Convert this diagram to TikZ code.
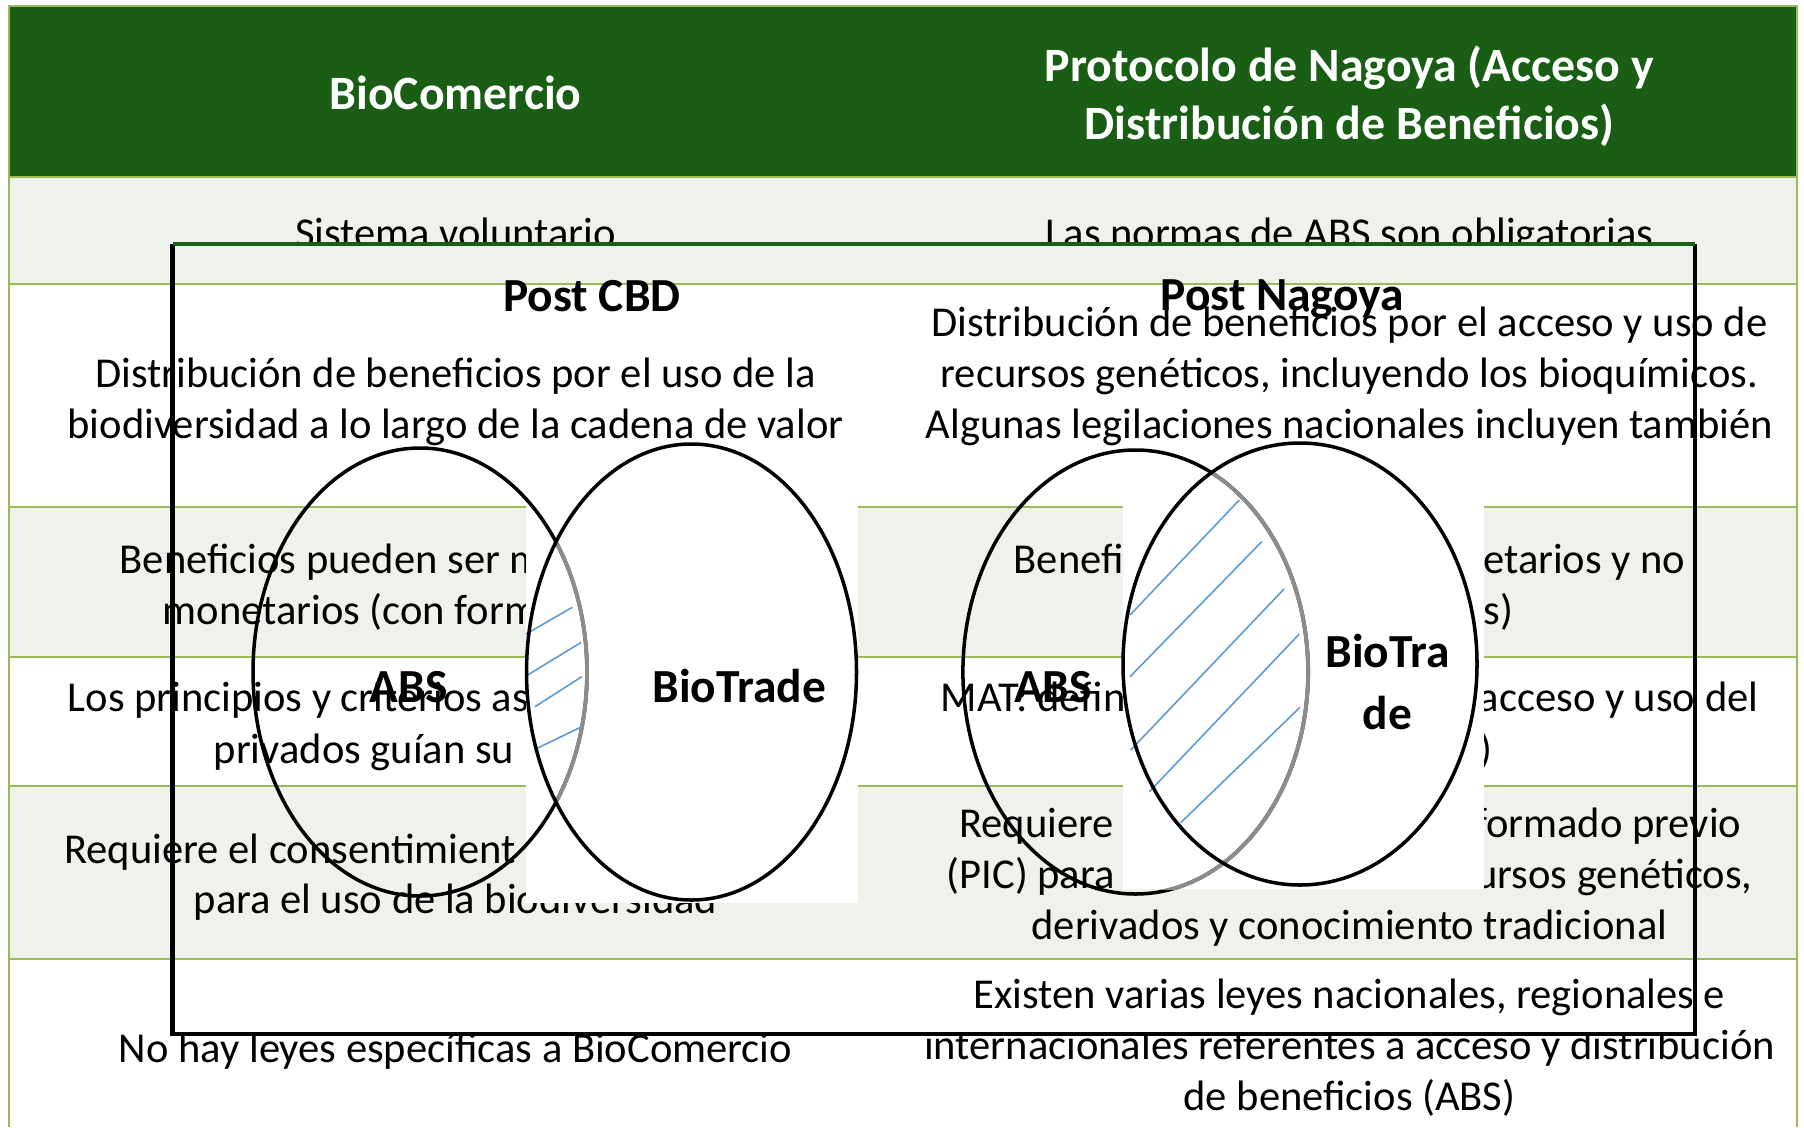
\documentclass[tikz,border=0pt]{standalone}
\usepackage{fontspec}
\setmainfont{Carlito}
\usepackage{xcolor}
\usetikzlibrary{positioning}
\definecolor{headgreen}{RGB}{26,94,22}
\definecolor{rowshade}{RGB}{239,242,234}
\definecolor{gridgreen}{RGB}{155,187,89}
\definecolor{hatchblue}{RGB}{91,155,213}
\definecolor{ringgray}{RGB}{140,140,140}
\tikzset{%
  cell text/.style={
    font=\fontsize{12.1}{14.5}\selectfont,
    align=center,
    inner sep=0pt,
    anchor=base
  },
  head text/.style={
    font=\fontsize{13.6}{16.4}\selectfont\bfseries,
    text=white,
    align=center,
    inner sep=0pt,
    anchor=base
  },
  venn label/.style={
    font=\fontsize{13.5}{17.4}\selectfont\bfseries,
    align=center,
    inner sep=0pt,
    anchor=base
  },
  grid rule/.style={draw=gridgreen, line width=0.6pt},
  ring/.style={draw=black, line width=1pt},
  ring hidden/.style={draw=ringgray, line width=1.1pt},
  hatch/.style={draw=hatchblue, line width=0.45pt},
}

\begin{document}
\begin{tikzpicture}[x=0.01cm, y=-0.01cm]
  \useasboundingbox (0,0) rectangle (1804,1127);
  % table
  \fill[headgreen] (9,6) rectangle (1797,177);
  \fill[rowshade] (9,177) rectangle (1797,284);
  \fill[rowshade] (9,507) rectangle (1797,657);
  \fill[rowshade] (9,786) rectangle (1797,959);
  \draw[grid rule] (9,1127) -- (9,6) -- (1797,6) -- (1797,1127);
  \draw[grid rule] (9,177) -- (1797,177);
  \draw[grid rule] (9,284) -- (1797,284);
  \draw[grid rule] (9,507) -- (1797,507);
  \draw[grid rule] (9,657) -- (1797,657);
  \draw[grid rule] (9,786) -- (1797,786);
  \draw[grid rule] (9,959) -- (1797,959);

  % multi-line nodes sit on the baseline of their last line
  \node[head text] (headBio) at (455.5,109) {BioComercio};
  \node[head text] (headNagoya) at (1349.5,139) {Protocolo de Nagoya (Acceso y\\Distribución de Beneficios)};

  \node[cell text] (voluntario) at (455.5,247) {Sistema voluntario};
  \node[cell text] (obligatorias) at (1349.5,247) {Las normas de ABS son obligatorias};
  \node[cell text] (usoBio) at (455.5,438) {Distribución de beneficios por el uso de la\\biodiversidad a lo largo de la cadena de valor};
  \node[cell text] (usoRec) at (1349.5,438) {Distribución de beneficios por el acceso y uso de\\recursos genéticos, incluyendo los bioquímicos.\\Algunas legilaciones nacionales incluyen también};
  \node[cell text, anchor=base west] (benefA) at (119,573.5) {Beneficios pueden ser m};
  \node[cell text, anchor=base west] (benefB) at (162,624.5) {monetarios (con form};
  \node[cell text, anchor=base west] (benefC) at (1013,573.5) {Benefi};
  \node[cell text, anchor=base east] (benefD) at (1686,573.5) {etarios y no};
  \node[cell text, anchor=base east] (benefE) at (1514,624.5) {s)};
  \node[cell text, anchor=base west] (princA) at (67,711) {Los principios y criterios as};
  \node[cell text, anchor=base west] (princB) at (213,763) {privados guían su};
  \node[cell text, anchor=base west] (matA) at (940,711) {MAT: defin};
  \node[cell text, anchor=base east] (matB) at (1759,711) {acceso y uso del};
  \node[cell text, anchor=base east] (matC) at (1493,763) {)};
  \node[cell text, anchor=base west] (picA) at (63.5,863) {Requiere el consentimient};
  \node[cell text] (picB) at (455.5,913.5) {para el uso de la biodiversidad};
  \node[cell text, anchor=base west] (picC) at (958.5,837) {Requiere};
  \node[cell text, anchor=base east] (picD) at (1742,837) {formado previo};
  \node[cell text, anchor=base west] (picE) at (946,888.4) {(PIC) para};
  \node[cell text, anchor=base east] (picF) at (1753,888.4) {ursos genéticos,};
  \node[cell text] (picG) at (1349.5,939) {derivados y conocimiento tradicional};
  \node[cell text] (leyesBio) at (455.5,1062) {No hay leyes específicas a BioComercio};
  \node[cell text] (leyesAbs) at (1349.5,1110.5) {Existen varias leyes nacionales, regionales e\\internacionales referentes a acceso y distribución\\de beneficios (ABS)};

  % overlay frame
  \fill[rowshade] (172.6,246) rectangle (1695,283);
  \fill[white] (172.6,1022) rectangle (1695,1034);
  \draw[black, line width=1.2pt] (172.6,244) -- (172.6,1034) -- (1695,1034) -- (1695,244);
  \draw[headgreen, line width=1pt] (172.6,244) -- (1695,244);

  % post CBD venn
  \fill[white] (526,505) rectangle (858,903);
  \draw[ring] (420,672) ellipse [x radius=167, y radius=224];
  \begin{scope}
    \clip (691.5,672) ellipse [x radius=165, y radius=228];
    \draw[ring hidden] (420,672) ellipse [x radius=167, y radius=224];
  \end{scope}
  \draw[hatch] (526,634) -- (572.3,607.3);
  \draw[hatch] (526,676) -- (581.3,642.3);
  \draw[hatch] (535,706.7) -- (581.7,676.7);
  \draw[hatch] (535,749.3) -- (581.7,726.7);
  \draw[ring] (691.5,672) ellipse [x radius=165, y radius=228];

  % post Nagoya venn
  \fill[white] (1123,505) rectangle (1484,889);
  \draw[ring] (1135.5,672) ellipse [x radius=172.6, y radius=222];
  \begin{scope}
    \clip (1300,664) ellipse [x radius=177, y radius=221];
    \draw[ring hidden] (1135.5,672) ellipse [x radius=172.6, y radius=222];
  \end{scope}
  \begin{scope}
    \clip (1123,505) rectangle (1484,889);
    \draw[ring hidden] (1135.5,672) ellipse [x radius=172.6, y radius=222];
  \end{scope}
  \draw[hatch] (1130,615) -- (1239.3,500);
  \draw[hatch] (1130,676.7) -- (1261.7,541.7);
  \draw[hatch] (1130.7,750) -- (1284,589);
  \draw[hatch] (1149.3,791.7) -- (1299.3,634);
  \draw[hatch] (1180.7,822.7) -- (1300,707.3);
  \draw[ring] (1300,664) ellipse [x radius=177, y radius=221];

  \node[venn label] (postCBD) at (592,311) {Post CBD};
  \node[venn label] (postNagoya) at (1282,310) {Post Nagoya};
  \node[venn label] (absLeft) at (408.6,702) {ABS};
  \node[venn label] (tradeLeft) at (739.4,702) {BioTrade};
  \node[venn label] (absRight) at (1053,702) {ABS};
  \node[venn label] (tradeRight) at (1387.6,729) {BioTra\\de};
\end{tikzpicture}
\end{document}
